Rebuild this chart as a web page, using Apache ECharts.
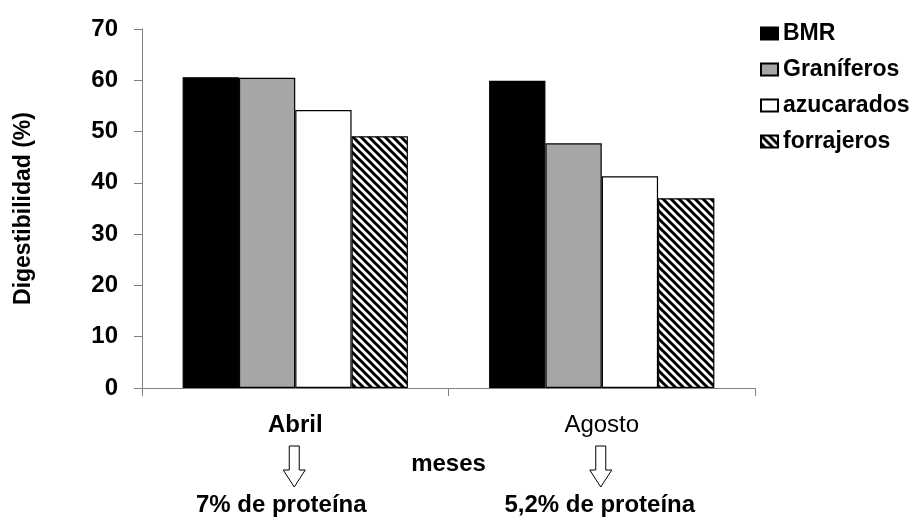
<!DOCTYPE html>
<html>
<head>
<meta charset="utf-8">
<script src="https://cdn.jsdelivr.net/npm/echarts@6/dist/echarts.min.js"></script>
<style>
html,body{margin:0;padding:0;background:#fff;}
#chart{width:913px;height:517px;}
</style>
</head>
<body>
<div id="chart"></div>
<script>
// ---- data ----
const categories = ['Abril', 'Agosto'];
const seriesNames = ['BMR', 'Graníferos', 'azucarados', 'forrajeros'];
const bmr = [60.6, 59.9];
const graniferos = [60.5, 47.7];
const azucarados = [54.2, 41.3];
const forrajeros = [49.1, 37.0];
const yTicks = [0, 10, 20, 30, 40, 50, 60, 70];
const proteinNotes = ['7% de proteína', '5,2% de proteína'];
const xAxisName = 'meses';
const yAxisName = 'Digestibilidad (%)';

// ---- hatch pattern ----
function makeHatch() {
  const s = 8;
  const c = document.createElement('canvas');
  c.width = s; c.height = s;
  const ctx = c.getContext('2d');
  ctx.fillStyle = '#ffffff';
  ctx.fillRect(0, 0, s, s);
  ctx.strokeStyle = '#000000';
  ctx.lineWidth = 3;
  for (let k = -1; k <= 1; k++) {
    ctx.beginPath();
    ctx.moveTo(k * s - 2, -2);
    ctx.lineTo(k * s + s + 2, s + 2);
    ctx.stroke();
  }
  return c;
}
const hatch = { image: makeHatch(), repeat: 'repeat' };

const FONT = '"Liberation Sans", Arial, sans-serif';
const colors = ['#000000', '#a6a6a6', '#ffffff', hatch];
const values = [bmr, graniferos, azucarados, forrajeros];

const chart = echarts.init(document.getElementById('chart'), null, { renderer: 'canvas' });

const option = {
  backgroundColor: '#ffffff',
  animation: false,
  grid: { left: 142, right: 158, top: 29, bottom: 129, containLabel: false, outerBoundsMode: 'none' },
  legend: {
    orient: 'vertical',
    left: 755,
    top: 17,
    itemWidth: 17,
    itemHeight: 12,
    itemGap: 13,
    icon: 'rect',
    textStyle: { fontFamily: FONT, fontWeight: 'bold', fontSize: 23, color: '#000' },
    data: seriesNames
  },
  xAxis: {
    type: 'category',
    data: [
      { value: categories[0], textStyle: { fontWeight: 'bold' } },
      { value: categories[1], textStyle: { fontWeight: 'normal' } }
    ],
    name: xAxisName,
    nameLocation: 'middle',
    nameGap: 64,
    nameTextStyle: { fontFamily: FONT, fontWeight: 'bold', fontSize: 24, color: '#000' },
    axisLine: { show: true, lineStyle: { color: '#808080', width: 1 } },
    axisTick: { show: true, length: 8, lineStyle: { color: '#808080' } },
    axisLabel: { fontFamily: FONT, fontSize: 24, color: '#000', margin: 25 },
    splitLine: { show: false }
  },
  yAxis: {
    type: 'value',
    min: yTicks[0],
    max: yTicks[yTicks.length - 1],
    interval: yTicks[1] - yTicks[0],
    name: yAxisName,
    nameLocation: 'middle',
    nameRotate: 90,
    nameGap: 107,
    nameTextStyle: { fontFamily: FONT, fontWeight: 'bold', fontSize: 23, color: '#000' },
    axisLine: { show: true, lineStyle: { color: '#808080', width: 1 } },
    axisTick: { show: true, length: 8, lineStyle: { color: '#808080' } },
    axisLabel: { fontFamily: FONT, fontWeight: 'bold', fontSize: 24, color: '#000', margin: 24 },
    splitLine: { show: false }
  },
  series: seriesNames.map((n, i) => ({
    name: n,
    type: 'bar',
    data: values[i],
    barGap: '0%',
    barCategoryGap: '26.5%',
    itemStyle: { color: colors[i], borderColor: '#000', borderWidth: 1.2 }
  }))
};
chart.setOption(option);

// ---- annotations (arrows + protein notes), positioned from axis scale ----
function arrowShape(cx) {
  const top = 446, neck = 470, tip = 487, hw = 5, hh = 11;
  return [[cx - hw, top], [cx + hw, top], [cx + hw, neck], [cx + hh, neck], [cx, tip], [cx - hh, neck], [cx - hw, neck]];
}
const graphics = [];
const noteOffsets = [-14, -2];
categories.forEach((c, i) => {
  const px = chart.convertToPixel({ xAxisIndex: 0 }, c);
  graphics.push({
    type: 'polygon',
    shape: { points: arrowShape(px - 1) },
    style: { fill: '#fff', stroke: '#000', lineWidth: 1 }
  });
  graphics.push({
    type: 'text',
    x: px + noteOffsets[i],
    y: 505,
    style: {
      text: proteinNotes[i],
      fontFamily: FONT, fontWeight: 'bold', fontSize: 24, fill: '#000',
      textAlign: 'center', textVerticalAlign: 'middle'
    }
  });
});
chart.setOption({ graphic: graphics });
</script>
</body>
</html>
